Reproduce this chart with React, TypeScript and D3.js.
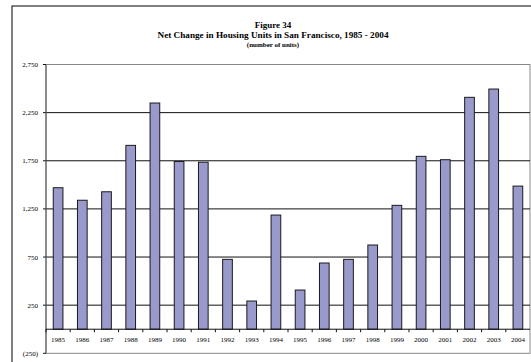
import React from "react";
import * as d3 from "d3";

const years = ["1985","1986","1987","1988","1989","1990","1991","1992","1993","1994","1995","1996","1997","1998","1999","2000","2001","2002","2003","2004"];
const netUnits = [1470,1340,1428,1910,2350,1742,1735,726,293,1186,407,688,726,875,1287,1796,1761,2409,2495,1487];
const yTicks = [-250,250,750,1250,1750,2250,2750];
const titleLines = ["Figure 34","Net Change in Housing Units in San Francisco, 1985 - 2004","(number of units)"];

const fmt = (v: number) => v < 0 ? `(${d3.format(",")(-v)})` : d3.format(",")(v);

export default function App() {
  const W = 531, H = 362;
  const left = 46, right = 530, top = 64.5, bottom = 353.3;
  const x = d3.scaleBand<string>().domain(years).range([left, right]).paddingInner(0.6).paddingOuter(0.3);
  const xb = d3.scaleBand<string>().domain(years).range([left, right]);
  const y = d3.scaleLinear().domain([-250, 2750]).range([bottom, top]);
  const font = "'Liberation Serif', 'Times New Roman', serif";
  const cx = 273;
  return (
    <svg width={W} height={H} style={{ position: "absolute", left: 0, top: 0, background: "#fff" }} fontFamily={font}>
      <rect x={12} y={6} width={W + 20} height={H + 20} fill="#fff" stroke="#000" strokeWidth={1} />
      <g textAnchor="middle" fontWeight="bold" fill="#000">
        <text x={cx} y={27.5} fontSize={9}>{titleLines[0]}</text>
        <text x={cx} y={38} fontSize={9.2}>{titleLines[1]}</text>
        <text x={cx} y={46.5} fontSize={7}>{titleLines[2]}</text>
      </g>
      <rect x={left} y={top} width={right - left} height={bottom - top} fill="none" stroke="#888" strokeWidth={1} />
      {yTicks.filter(t => t > -250 && t < 2750).map(t => (
        <line key={t} x1={left} x2={right} y1={y(t)} y2={y(t)} stroke="#111" strokeWidth={1} />
      ))}
      {yTicks.map(t => (
        <g key={"yt" + t}>
          <line x1={left - 3} x2={left} y1={y(t)} y2={y(t)} stroke="#111" />
          <text x={38} y={y(t) + 2.5} fontSize={7} textAnchor="end" fill="#000">{fmt(t)}</text>
        </g>
      ))}
      <line x1={left} x2={left} y1={top} y2={bottom} stroke="#555" strokeWidth={1} />
      {years.map((yr, i) => (
        <rect key={yr} x={x(yr)} y={y(Math.max(0, netUnits[i]))} width={x.bandwidth()} height={Math.abs(y(netUnits[i]) - y(0))}
          fill="#9999cc" stroke="#1a1a1a" strokeWidth={1} />
      ))}
      <line x1={left} x2={right} y1={y(0)} y2={y(0)} stroke="#111" strokeWidth={1} />
      {years.map(yr => (
        <g key={"xt" + yr}>
          <line x1={xb(yr)!} x2={xb(yr)!} y1={y(0)} y2={y(0) + 3} stroke="#111" />
          <text x={xb(yr)! + xb.bandwidth() / 2} y={y(0) + 13} fontSize={7} textAnchor="middle" fill="#000">{yr}</text>
        </g>
      ))}
    </svg>
  );
}
